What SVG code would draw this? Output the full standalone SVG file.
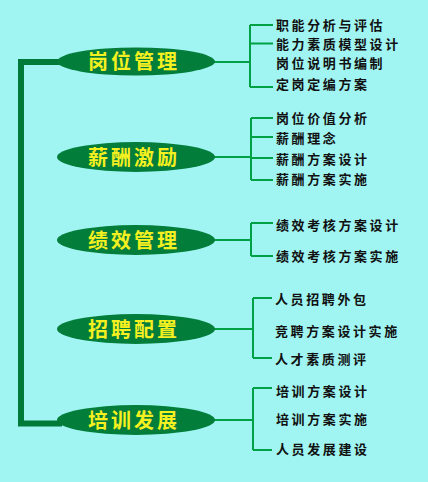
<svg xmlns="http://www.w3.org/2000/svg" width="428" height="482" viewBox="0 0 428 482">
<style>
.bg{fill:#a0f5f2}
.trunk{fill:none;stroke:#007a38;stroke-width:6;stroke-linejoin:miter}
.con{fill:none;stroke:#00a044;stroke-width:2}
.oval{fill:#037d3a}
.main{font-family:"Noto Sans CJK SC","Noto Sans CJK TC",sans-serif;font-size:20px;font-weight:bold;fill:#f5f020;letter-spacing:3px;text-anchor:middle}
.sub{font-family:"Noto Sans CJK SC","Noto Sans CJK TC",sans-serif;font-size:13px;font-weight:bold;fill:#111;letter-spacing:2.6px}
</style>
<rect class="bg" x="0" y="0" width="428" height="482"/>
<g id="connectors">
<path class="trunk" d="M62,62 H21 V423.5 H62"/>
<path class="con" d="M214,62 H250 M250,25 V87 M250,25 H273 M250,43.5 H273 M250,87 H273"/>
<path class="con" d="M214,157 H251 M251,118 V180 M251,118 H273 M251,137 H273 M251,158 H273 M251,180 H273"/>
<path class="con" d="M214,240 H251 M251,223 V256 M251,223 H273 M251,256 H273"/>
<path class="con" d="M214,329 H253 M253,298 V358 M253,298 H272 M253,358 H272"/>
<path class="con" d="M214,420 H253 M253,388 V450 M253,388 H272 M253,450 H272"/>
</g>
<g id="n1">
<ellipse class="oval" cx="136" cy="61.5" rx="79" ry="14"/>
<text class="main" x="134" y="69">岗位管理</text>
</g>
<g id="n2">
<ellipse class="oval" cx="136" cy="157" rx="79" ry="15"/>
<text class="main" x="134" y="164.5">薪酬激励</text>
</g>
<g id="n3">
<ellipse class="oval" cx="136" cy="240" rx="79" ry="15"/>
<text class="main" x="134" y="247.5">绩效管理</text>
</g>
<g id="n4">
<ellipse class="oval" cx="136" cy="329" rx="79" ry="15"/>
<text class="main" x="134" y="336.5">招聘配置</text>
</g>
<g id="n5">
<ellipse class="oval" cx="136" cy="420" rx="79" ry="15"/>
<text class="main" x="134" y="427.5">培训发展</text>
</g>
<g id="leaves">
<text class="sub" x="276" y="30">职能分析与评估</text>
<text class="sub" x="276" y="48.5">能力素质模型设计</text>
<text class="sub" x="276" y="67.5">岗位说明书编制</text>
<text class="sub" x="276" y="89">定岗定编方案</text>
<text class="sub" x="276" y="122.5">岗位价值分析</text>
<text class="sub" x="276" y="142.5">薪酬理念</text>
<text class="sub" x="276" y="164">薪酬方案设计</text>
<text class="sub" x="276" y="184">薪酬方案实施</text>
<text class="sub" x="276" y="230">绩效考核方案设计</text>
<text class="sub" x="276" y="261">绩效考核方案实施</text>
<text class="sub" x="275" y="303.5">人员招聘外包</text>
<text class="sub" x="275" y="335.5">竞聘方案设计实施</text>
<text class="sub" x="275" y="364">人才素质测评</text>
<text class="sub" x="276" y="396">培训方案设计</text>
<text class="sub" x="276" y="424">培训方案实施</text>
<text class="sub" x="276" y="454">人员发展建设</text>
</g>
</svg>
